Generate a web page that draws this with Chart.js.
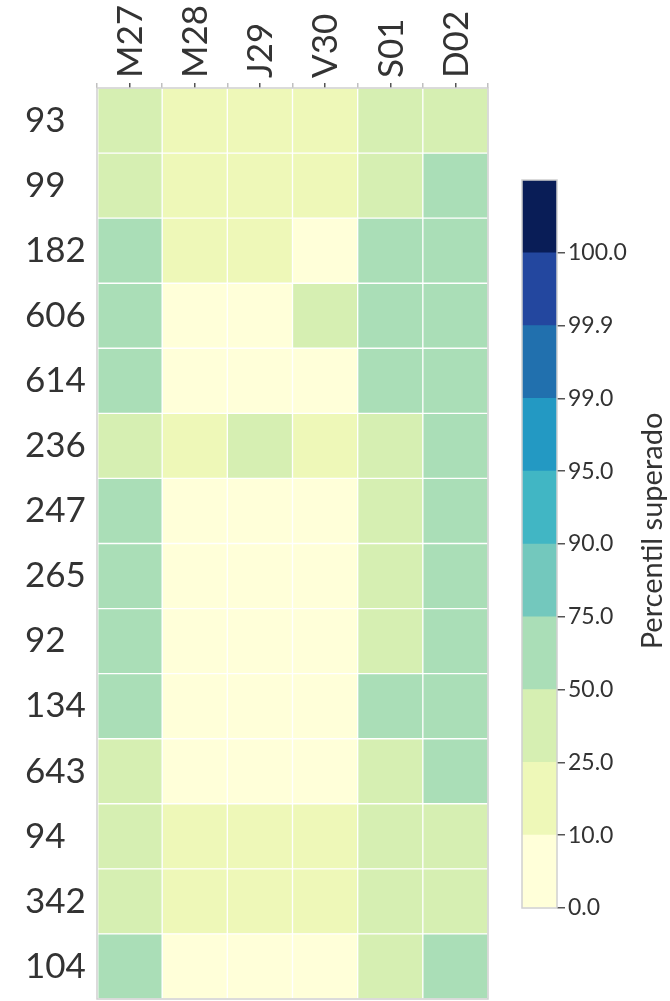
<!DOCTYPE html>
<html>
<head>
<meta charset="utf-8">
<script src="https://cdn.jsdelivr.net/npm/chart.js@4.4.1/dist/chart.umd.min.js"></script>
<style>
  html, body { margin: 0; padding: 0; background: #fff; }
  #wrap { position: relative; width: 670px; height: 1001px; }
  #heat-box { position: absolute; left: 0; top: 0; width: 492px; height: 1001px; }
  #bar-box { position: absolute; left: 500px; top: 0; width: 170px; height: 1001px; }
</style>
</head>
<body>
<div id="wrap">
  <div id="heat-box"><canvas id="heat"></canvas></div>
  <div id="bar-box"><canvas id="bar"></canvas></div>
</div>
<script>
// Days (columns) and stations (rows)
const days = ['M27', 'M28', 'J29', 'V30', 'S01', 'D02'];
const stations = ['93', '99', '182', '606', '614', '236', '247', '265', '92', '134', '643', '94', '342', '104'];

// Percentile reached per station, one array per day (estimated from the colours)
const m27 = [38, 40, 60, 62, 58, 36, 60, 63, 61, 64, 40, 37, 36, 60];
const m28 = [18, 17, 16, 5, 4, 15, 5, 4, 5, 4, 6, 18, 17, 4];
const j29 = [17, 18, 16, 4, 5, 35, 4, 5, 4, 5, 5, 17, 18, 5];
const v30 = [16, 17, 6, 34, 5, 18, 5, 4, 5, 4, 5, 16, 17, 4];
const s01 = [37, 38, 62, 60, 61, 38, 40, 41, 39, 60, 38, 40, 39, 38];
const d02 = [36, 58, 61, 63, 60, 59, 62, 60, 61, 62, 60, 38, 37, 61];
const dayValues = [m27, m28, j29, v30, s01, d02];

// Colour scale bounds and colours
const levels = [0, 10, 25, 50, 75, 90, 95, 99, 99.9, 100];
const levelColors = ['#ffffd9', '#eef8b8', '#d6efb2', '#aadeb7', '#73c8bd', '#41b6c4', '#2399c3', '#2170ae', '#23479f', '#091d57'];

const fontFamily = 'Lato, "Open Sans", sans-serif';
const textColor = '#333333';

function colorFor(v) {
  let idx = 0;
  levels.forEach((lv, i) => { if (v >= lv) idx = i; });
  if (v > 100) idx = levels.length;
  return levelColors[Math.min(idx, levelColors.length - 1)];
}

// Light grey box around the plot area
const framePlugin = {
  id: 'frame',
  afterDatasetsDraw(chart) {
    const { ctx, chartArea: a } = chart;
    ctx.save();
    ctx.strokeStyle = '#d0d0d0';
    ctx.lineWidth = 1.5;
    ctx.strokeRect(a.left, a.top, a.right - a.left, a.bottom - a.top);
    ctx.restore();
  }
};

// Heatmap as floating horizontal bars
new Chart(document.getElementById('heat'), {
  type: 'bar',
  data: {
    labels: stations,
    datasets: dayValues.map((vals, c) => ({
      label: days[c],
      data: vals.map(() => [c, c + 1]),
      backgroundColor: vals.map(colorFor),
      borderColor: '#ffffff',
      borderWidth: 1,
      borderSkipped: false,
      grouped: false,
      categoryPercentage: 1,
      barPercentage: 1
    }))
  },
  options: {
    indexAxis: 'y',
    responsive: true,
    maintainAspectRatio: false,
    animation: false,
    layout: { padding: { left: 25, right: 4, top: 0, bottom: 2 } },
    plugins: { legend: { display: false }, tooltip: { enabled: false } },
    scales: {
      x: {
        type: 'linear',
        position: 'top',
        min: 0,
        max: 6,
        afterBuildTicks: (s) => {
          const t = [];
          for (let i = 0; i <= 12; i++) t.push({ value: i / 2 });
          s.ticks = t;
        },
        afterFit: (s) => { s.height = 88; s.paddingLeft = 0; s.paddingRight = 0; },
        grid: {
          drawOnChartArea: false,
          tickLength: 5,
          lineWidth: 1.5,
          tickColor: (ctx) => (ctx.tick && ctx.tick.value % 1 === 0.5 ? '#555555' : '#c0c0c0')
        },
        border: { display: false },
        ticks: {
          autoSkip: false,
          minRotation: 90,
          maxRotation: 90,
          padding: 5,
          labelOffset: 43,
          color: textColor,
          font: { family: fontFamily, size: 35 },
          callback: (v) => (v % 1 === 0.5 ? days[Math.floor(v)] : '')
        }
      },
      y: {
        afterFit: (s) => { s.width = 72; s.paddingTop = 0; s.paddingBottom = 0; },
        grid: { display: false },
        border: { display: false },
        ticks: {
          crossAlign: 'far',
          padding: 0,
          color: textColor,
          font: { family: fontFamily, size: 35 }
        }
      }
    }
  },
  plugins: [framePlugin]
});

// Colour bar title, drawn bottom to top
const cbarTitle = {
  id: 'cbarTitle',
  afterDraw(chart) {
    const ctx = chart.ctx;
    ctx.save();
    ctx.translate(162, 531);
    ctx.rotate(-Math.PI / 2);
    ctx.font = '29px ' + fontFamily;
    ctx.fillStyle = textColor;
    ctx.textAlign = 'center';
    ctx.textBaseline = 'alphabetic';
    ctx.fillText('Percentil superado', 0, 0);
    ctx.restore();
  }
};

// Colour bar: one segment per colour step, evenly spaced
new Chart(document.getElementById('bar'), {
  type: 'bar',
  data: {
    labels: [''],
    datasets: levelColors.map((col, i) => ({
      data: [[i, i + 1]],
      backgroundColor: col,
      borderWidth: 0,
      grouped: false,
      categoryPercentage: 1,
      barPercentage: 1
    }))
  },
  options: {
    responsive: true,
    maintainAspectRatio: false,
    animation: false,
    layout: { padding: { left: 22, right: 0, top: 180, bottom: 93 } },
    plugins: { legend: { display: false }, tooltip: { enabled: false } },
    scales: {
      x: { display: false },
      y: {
        type: 'linear',
        position: 'right',
        min: 0,
        max: 10,
        afterBuildTicks: (s) => { s.ticks = levels.map((_, i) => ({ value: i })); },
        afterFit: (s) => { s.width = 113; s.paddingTop = 0; s.paddingBottom = 0; },
        grid: { drawOnChartArea: false, tickLength: 8, lineWidth: 1.5, tickColor: '#555555' },
        border: { display: false },
        ticks: {
          padding: 3,
          color: textColor,
          font: { family: fontFamily, size: 23 },
          callback: (v) => (levels[v] !== undefined ? levels[v].toFixed(1) : '')
        }
      }
    }
  },
  plugins: [framePlugin, cbarTitle]
});
</script>
</body>
</html>
